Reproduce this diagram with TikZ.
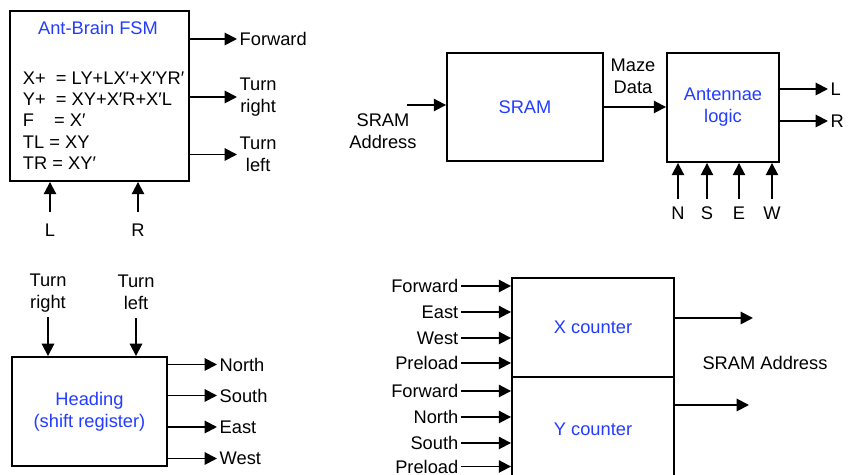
\documentclass[tikz,border=0pt]{standalone}
\usepackage{fontspec}
\setmainfont{Liberation Sans}
\usepackage{xcolor}
\usetikzlibrary{arrows.meta}
\definecolor{fsmblue}{RGB}{35,60,255}

\begin{document}
\begin{tikzpicture}[line cap=butt,line join=miter,line width=1.1pt,>={Triangle[length=7pt,width=7pt]},x=0.02cm,y=-0.02cm,
  every node/.style={font=\fontsize{10.4}{12.6}\selectfont},
  blk/.style={draw,rectangle,inner sep=0pt,align=center},
  lbl/.style={inner sep=1pt,align=center},
  btxt/.style={text=fsmblue,align=center}]
\clip (0,0) rectangle (849,475);
% ant-brain FSM
\node[blk,minimum width=3.58cm,minimum height=3.4cm] (fsm) at (99.5,96) {};
\node[btxt] (fsmname) at (98,28) {Ant-Brain FSM};
\node[anchor=north west,align=left,inner sep=0pt,font=\fontsize{10.4}{12.2}\selectfont] (eqs) at (22,70.5) {X+\ \ = LY+LX′+X′YR′\\Y+\ \ = XY+X′R+X′L\\F\hspace{1.1em}= X′\\TL = XY\\TR = XY′};
\node[lbl,anchor=west] (fwd) at (237,39) {Forward};
\node[lbl,anchor=west] (tright) at (237,97) {Turn\\right};
\node[lbl,anchor=west] (tleft) at (237,154.5) {Turn\\left};
\draw[->] (fsm.east |- fwd) -- (fwd.west);
\draw[->] (fsm.east |- tright) -- (tright.west);
\draw[->] (fsm.east |- tleft) -- (tleft.west);
\node[lbl] (inl) at (50,230) {L};
\node[lbl] (inr) at (138,230) {R};
\draw[->,shorten <=4.9pt] (inl) -- (inl |- fsm.south);
\draw[->,shorten <=4.9pt] (inr) -- (inr |- fsm.south);
% SRAM and antennae
\node[blk,minimum width=3.12cm,minimum height=2.16cm,text=fsmblue] (sram) at (525,107) {SRAM};
\coordinate (sramin) at (407,105);
\draw[->] (sramin) -- (sramin -| sram.west);
\node[lbl] (sramaddr) at (383,131.5) {SRAM\\Address};
\node[blk,btxt,minimum width=2.24cm,minimum height=2.18cm] (ant) at (723,107.5) {Antennae\\logic};
\draw[->] (sram.east) -- (sram.east -| ant.west);
\node[lbl] (maze) at (633,76) {Maze\\Data};
\node[lbl,anchor=west] (outl) at (828,89) {L};
\node[lbl,anchor=west] (outr) at (828,121) {R};
\draw[->] (ant.east |- outl) -- (outl.west);
\draw[->] (ant.east |- outr) -- (outr.west);
\node[lbl] (inn) at (678,213) {N};
\node[lbl] (ins) at (707,213) {S};
\node[lbl] (ine) at (739,213) {E};
\node[lbl] (inw) at (772,213) {W};
\draw[->,shorten <=2.7pt] (inn) -- (inn |- ant.south);
\draw[->,shorten <=2.7pt] (ins) -- (ins |- ant.south);
\draw[->,shorten <=2.7pt] (ine) -- (ine |- ant.south);
\draw[->,shorten <=2.7pt] (inw) -- (inw |- ant.south);
% heading
\node[blk,btxt,minimum width=3.10cm,minimum height=2.18cm] (head) at (89.5,411.5) {Heading\\(shift register)};
\node[lbl] (hright) at (48,293.5) {Turn\\right};
\node[lbl] (hleft) at (136,292.5) {Turn\\left};
\draw[->,shorten <=1pt] (hright) -- (hright |- head.north);
\draw[->,shorten <=3pt] (hleft) -- (hleft |- head.north);
\node[lbl,anchor=west] (north) at (217,364.5) {North};
\node[lbl,anchor=west] (south) at (217,395.5) {South};
\node[lbl,anchor=west] (east) at (217,427) {East};
\node[lbl,anchor=west] (west) at (217,458.5) {West};
\draw[->] (head.east |- north) -- (north.west);
\draw[->] (head.east |- south) -- (south.west);
\draw[->] (head.east |- east) -- (east.west);
\draw[->] (head.east |- west) -- (west.west);
% X and Y counters
\node[blk,btxt,minimum width=3.24cm,minimum height=1.98cm] (xcnt) at (593,327.5) {X counter};
\node[blk,btxt,minimum width=3.24cm,minimum height=2.08cm] (ycnt) at (593,429) {Y counter};
\node[lbl,anchor=east] (xfwd) at (461,286) {Forward};
\node[lbl,anchor=east] (xeast) at (461,312) {East};
\node[lbl,anchor=east] (xwest) at (461,338) {West};
\node[lbl,anchor=east] (xpre) at (461,363) {Preload};
\node[lbl,anchor=east] (yfwd) at (461,391) {Forward};
\node[lbl,anchor=east] (ynorth) at (461,417) {North};
\node[lbl,anchor=east] (ysouth) at (461,443) {South};
\node[lbl,anchor=east] (ypre) at (461,466.5) {Preload};
\draw[->] (xfwd.east) -- (xfwd -| xcnt.west);
\draw[->] (xeast.east) -- (xeast -| xcnt.west);
\draw[->] (xwest.east) -- (xwest -| xcnt.west);
\draw[->] (xpre.east) -- (xpre -| xcnt.west);
\draw[->] (yfwd.east) -- (yfwd -| ycnt.west);
\draw[->] (ynorth.east) -- (ynorth -| ycnt.west);
\draw[->] (ysouth.east) -- (ysouth -| ycnt.west);
\draw[->] (ypre.east) -- (ypre -| ycnt.west);
\coordinate (xout) at (753,318);
\coordinate (yout) at (749,405);
\draw[->] (xout -| xcnt.east) -- (xout);
\draw[->] (yout -| ycnt.east) -- (yout);
\node (cntaddr) at (765,363) {SRAM Address};
\end{tikzpicture}
\end{document}
